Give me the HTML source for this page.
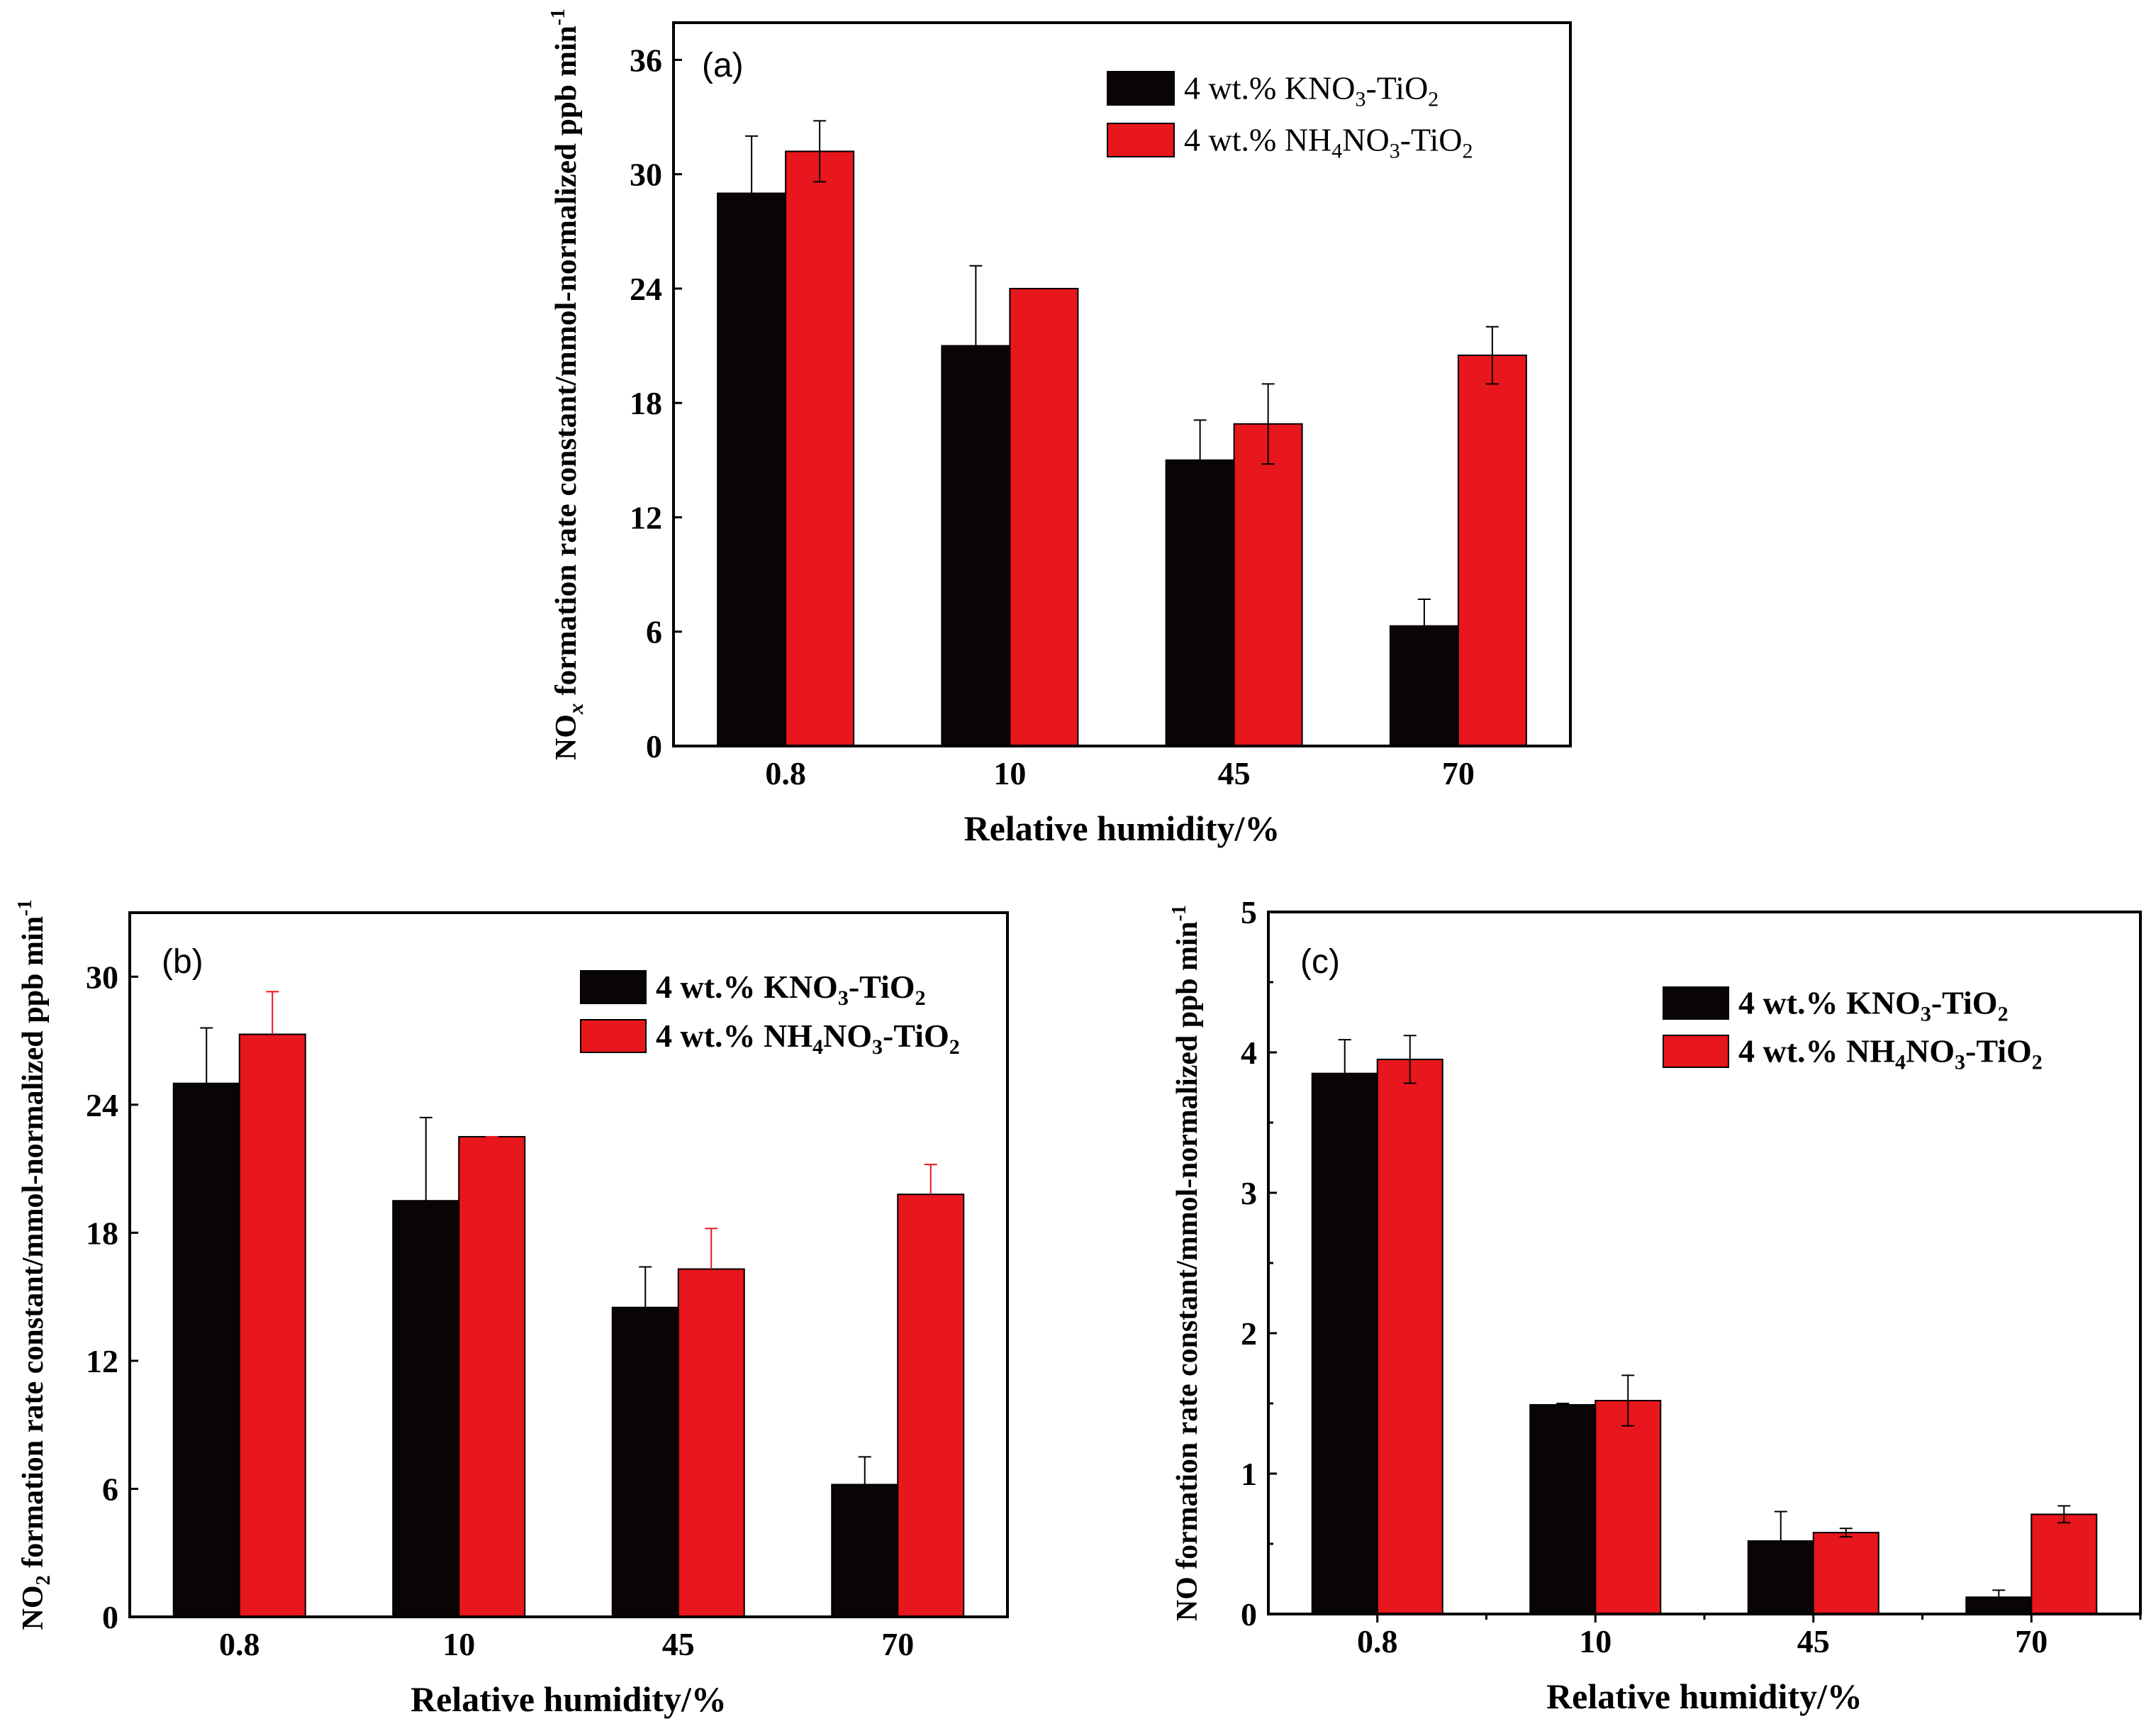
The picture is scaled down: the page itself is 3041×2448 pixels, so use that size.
<!DOCTYPE html>
<html><head><meta charset="utf-8"><style>
html,body{margin:0;padding:0;background:#fff;}
svg{display:block;font-family:"Liberation Serif",serif;}
</style></head><body>
<svg id="fig" width="3041" height="2448" viewBox="0 0 3041 2448" xmlns="http://www.w3.org/2000/svg"></svg>
<script>
const categories = ["0.8","10","45","70"];
// panel a
const aKNO3 = [29.0, 21.0, 15.0, 6.3];
const aKNO3Err = [3.0, 4.2, 2.1, 1.4];
const aNH4 = [31.2, 24.0, 16.9, 20.5];
const aNH4Err = [1.6, 0.0, 2.1, 1.5];
const aTicks = [0, 6, 12, 18, 24, 30, 36];
// panel b
const bKNO3 = [25.0, 19.5, 14.5, 6.2];
const bKNO3Err = [2.6, 3.9, 1.9, 1.3];
const bNH4 = [27.3, 22.5, 16.3, 19.8];
const bNH4Err = [2.0, 0.0, 1.9, 1.4];
const bTicks = [0, 6, 12, 18, 24, 30];
// panel c
const cKNO3 = [3.85, 1.49, 0.52, 0.12];
const cKNO3Err = [0.24, 0.01, 0.21, 0.05];
const cNH4 = [3.95, 1.52, 0.58, 0.71];
const cNH4Err = [0.17, 0.18, 0.03, 0.06];
const cTicks = [0, 1, 2, 3, 4, 5];

const NS = "http://www.w3.org/2000/svg";
const svg = document.getElementById("fig");
function mk(tag, attrs, parent, text) {
  const e = document.createElementNS(NS, tag);
  for (const k in attrs) e.setAttribute(k, attrs[k]);
  if (text !== undefined) e.textContent = text;
  (parent || svg).appendChild(e);
  return e;
}
function legendText(g, x, y, bold, parts) {
  const t = mk("text", {x: x, y: y, "font-size": 46, "font-weight": bold ? "bold" : "normal", fill: "#000"}, g);
  
  
  let down = false;
  parts.forEach(p => {
    const s = mk("tspan", {}, t, p[0]);
    if (p[1]) { s.setAttribute("font-size", 30); if (!down) { s.setAttribute("dy", 10); down = true; } }
    else if (down) { s.setAttribute("dy", -10); down = false; }
  });
}
function panel(o) {
  const g = mk("g", {});
  
  
  const y = v => o.bottom - v / o.ymax * (o.bottom - o.top);
  const band = (o.right - o.left) / categories.length;
  const cx = i => o.left + band * (i + 0.5);
  const bw = o.bw;
  const series = [[o.k, o.kErr, "#0a0505", o.kErrColor], [o.n, o.nErr, "#e8161d", o.nErrColor]];
  series.forEach((s, si) => {
    s[0].forEach((v, i) => {
      const x0 = si === 0 ? cx(i) - bw : cx(i);
      const r = mk("rect", {x: x0, y: y(v), width: bw, height: o.bottom - y(v), fill: s[2], stroke: "#000", "stroke-width": 2}, g);
      
      
      const e = s[1][i];
      const ex = x0 + bw / 2;
      const lo = (o.both && si === 1) ? v - e : v;
      const eg = mk("g", {stroke: s[3], "stroke-width": 2}, g);
      
      
      mk("line", {x1: ex, x2: ex, y1: y(v + e), y2: y(lo)}, eg);
      mk("line", {x1: ex - 9, x2: ex + 9, y1: y(v + e), y2: y(v + e)}, eg);
      if (lo !== v) mk("line", {x1: ex - 9, x2: ex + 9, y1: y(lo), y2: y(lo)}, eg);
    });
  });
  const fr = mk("rect", {x: o.left, y: o.top, width: o.right - o.left, height: o.bottom - o.top, fill: "none", stroke: "#000", "stroke-width": 4}, g);
  
  
  o.ticks.forEach(t => {
    mk("line", {x1: o.left, x2: o.left + 12, y1: y(t), y2: y(t), stroke: "#000", "stroke-width": 3}, g);
    const tl = mk("text", {x: o.left - 16, y: y(t) + 16, "font-size": 46, "font-weight": "bold", "text-anchor": "end"}, g, String(t));
    
    
  });
  if (o.minor) o.ticks.slice(0, -1).forEach(t => {
    const m = t + (o.ticks[1] - o.ticks[0]) / 2;
    mk("line", {x1: o.left, x2: o.left + 7, y1: y(m), y2: y(m), stroke: "#000", "stroke-width": 3}, g);
  });
  categories.forEach((c, i) => {
    if (o.xticks) {
      mk("line", {x1: cx(i), x2: cx(i), y1: o.bottom, y2: o.bottom + 12, stroke: "#000", "stroke-width": 3}, g);
      mk("line", {x1: o.left + band * (i + 1), x2: o.left + band * (i + 1), y1: o.bottom, y2: o.bottom + 8, stroke: "#000", "stroke-width": 3}, g);
    }
    const xl = mk("text", {x: cx(i), y: o.bottom + 54, "font-size": 46, "font-weight": "bold", "text-anchor": "middle"}, g, c);
    
    
  });
  const xt = mk("text", {x: (o.left + o.right) / 2, y: o.bottom + 133, "font-size": 50, "font-weight": "bold", "text-anchor": "middle"}, g, "Relative humidity/%");
  
  
  const yt = mk("text", {transform: `translate(${o.ytx},${(o.top + o.bottom) / 2}) rotate(-90)`, "font-size": 42, "font-weight": "bold", "text-anchor": "middle", textLength: o.ytLen, lengthAdjust: "spacingAndGlyphs"}, g);
  
  
  o.ytParts.forEach(p => {
    const s = mk("tspan", {}, yt, p[0]);
    if (p[1] === "sub") { s.setAttribute("font-size", 28); s.setAttribute("dy", 10); }
    if (p[1] === "back") { s.setAttribute("dy", -10); }
    if (p[1] === "sup") { s.setAttribute("font-size", 28); s.setAttribute("dy", -16); }
    if (p[1] === "it") { s.setAttribute("font-style", "italic"); s.setAttribute("font-size", 30); s.setAttribute("dy", 10); }
  });
  const pl = mk("text", {x: o.lblX, y: o.lblY, "font-size": 48, "font-family": "Liberation Sans, sans-serif"}, g, o.label);
  
  
  const lg = mk("g", {}, g);
  
  
  const k = mk("rect", {x: o.lx, y: o.ly1, width: o.lw, height: o.lh, fill: "#0a0505", stroke: "#000", "stroke-width": 2}, lg);
  
  
  const r = mk("rect", {x: o.lx, y: o.ly2, width: o.lw, height: o.lh, fill: "#e8161d", stroke: "#000", "stroke-width": 2}, lg);
  
  
  legendText(lg, o.lx + o.lw + 14, o.ly1 + o.lh / 2 + 15, o.lbold, [["4 wt.% KNO", 0], ["3", 1], ["-TiO", 0], ["2", 1]]);
  legendText(lg, o.lx + o.lw + 14, o.ly2 + o.lh / 2 + 15, o.lbold, [["4 wt.% NH", 0], ["4", 1], ["NO", 0], ["3", 1], ["-TiO", 0], ["2", 1]]);
}
panel({id: "a", left: 950, right: 2215, top: 32, bottom: 1052, ymax: 37.95, bw: 96,
  k: aKNO3, kErr: aKNO3Err, n: aNH4, nErr: aNH4Err, ticks: aTicks, both: true,
  kErrColor: "#000", nErrColor: "#000", minor: false, xticks: false,
  ytx: 812, ytLen: 1060, label: "(a)", lblX: 990, lblY: 108,
  ytParts: [["NO"], ["x", "it"], [" formation rate constant/mmol-normalized ppb min", "back"], ["-1", "sup"]],
  lx: 1562, ly1: 101, ly2: 174, lw: 94, lh: 47, lbold: false});
panel({id: "b", left: 183, right: 1421, top: 1287, bottom: 2280, ymax: 33.0, bw: 93,
  k: bKNO3, kErr: bKNO3Err, n: bNH4, nErr: bNH4Err, ticks: bTicks, both: false,
  kErrColor: "#000", nErrColor: "#e8161d", minor: false, xticks: false,
  ytx: 60, ytLen: 1030, label: "(b)", lblX: 228, lblY: 1372,
  ytParts: [["NO"], ["2", "sub"], [" formation rate constant/mmol-normalized ppb min", "back"], ["-1", "sup"]],
  lx: 819, ly1: 1369, ly2: 1438, lw: 92, lh: 46, lbold: true});
panel({id: "c", left: 1789, right: 3019, top: 1286, bottom: 2276, ymax: 5, bw: 92,
  k: cKNO3, kErr: cKNO3Err, n: cNH4, nErr: cNH4Err, ticks: cTicks, both: true,
  kErrColor: "#000", nErrColor: "#000", minor: true, xticks: true,
  ytx: 1688, ytLen: 1010, label: "(c)", lblX: 1834, lblY: 1372,
  ytParts: [["NO formation rate constant/mmol-normalized ppb min"], ["-1", "sup"]],
  lx: 2346, ly1: 1392, ly2: 1460, lw: 92, lh: 45, lbold: true});
</script>
</body></html>
